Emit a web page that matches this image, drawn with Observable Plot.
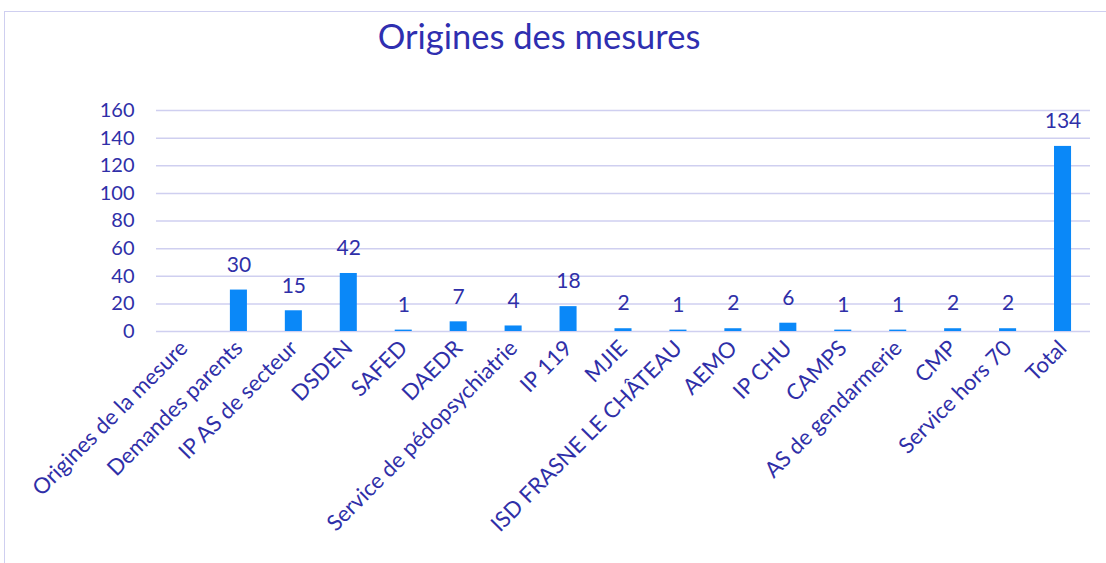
<!DOCTYPE html>
<html>
<head>
<meta charset="utf-8">
<script src="https://cdn.jsdelivr.net/npm/d3@7"></script>
<script src="https://cdn.jsdelivr.net/npm/@observablehq/plot@0.6"></script>
<style>
  html, body { margin: 0; padding: 0; background: #fff; }
  #wrap { position: relative; width: 1106px; height: 563px; overflow: hidden; }
  #frame { position: absolute; left: 4px; top: 11px; width: 1200px; height: 700px; border: 1.5px solid #cfcff0; box-sizing: border-box; }
  #title { position: absolute; left: 0; width: 1078px; top: 15px; text-align: center; font-family: Lato, "Open Sans", sans-serif; font-size: 34.5px; color: #2f2fb0; }
  #chart { position: absolute; left: 0; top: 0; }
</style>
</head>
<body>
<div id="wrap">
  <div id="frame"></div>
  <div id="chart"></div>
  <div id="title">Origines des mesures</div>
</div>
<script>
const categories = ["Origines de la mesure", "Demandes parents", "IP AS de secteur", "DSDEN", "SAFED", "DAEDR", "Service de pédopsychiatrie", "IP 119", "MJIE", "ISD FRASNE LE CHÂTEAU", "AEMO", "IP CHU", "CAMPS", "AS de gendarmerie", "CMP", "Service hors 70", "Total"];
const values = [null, 30, 15, 42, 1, 7, 4, 18, 2, 1, 2, 6, 1, 1, 2, 2, 134];
const yTicks = [0, 20, 40, 60, 80, 100, 120, 140, 160];

const data = categories.map((c, i) => ({cat: c, v: values[i]}));
const withVal = data.filter(d => d.v != null);
const textColor = "#2f2fa8";

const chart = Plot.plot({
  width: 1106,
  height: 563,
  marginLeft: 156,
  marginRight: 16,
  marginTop: 110,
  marginBottom: 232,
  style: {fontFamily: "Lato, 'Open Sans', sans-serif", color: textColor, background: "transparent"},
  x: {domain: categories, paddingInner: 0.69, paddingOuter: 0.345, round: false, label: null},
  y: {domain: [0, 160], ticks: yTicks, label: null},
  marks: [
    Plot.gridY(yTicks, {stroke: "#cfcff0", strokeOpacity: 1, strokeWidth: 1.5}),
    Plot.barY(withVal, {x: "cat", y: "v", fill: "#0a88f8"}),
    Plot.text(withVal, {x: "cat", y: "v", text: d => String(d.v), dy: -25, fontSize: 21, fill: textColor}),
    Plot.axisY({ticks: yTicks, tickSize: 0, tickPadding: 22, fontSize: 20, fill: textColor}),
    Plot.axisX({tickSize: 0, tickRotate: -45, tickPadding: 13, fontSize: 22, fill: textColor})
  ]
});
document.getElementById("chart").appendChild(chart);
</script>
</body>
</html>
